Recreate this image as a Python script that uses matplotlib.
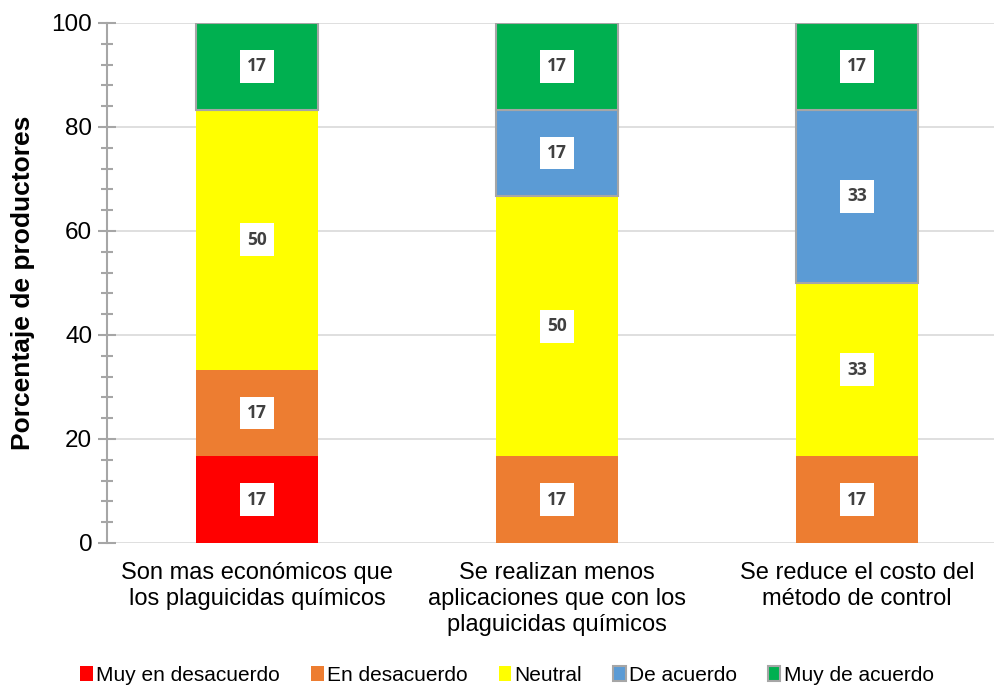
import matplotlib.pyplot as plt
import numpy as np
from matplotlib.ticker import MultipleLocator

# data (percent of producers)
categories = ["Son mas económicos que\nlos plaguicidas químicos",
              "Se realizan menos\naplicaciones que con los\nplaguicidas químicos",
              "Se reduce el costo del\nmétodo de control"]
series_names = ["Muy en desacuerdo", "En desacuerdo", "Neutral", "De acuerdo", "Muy de acuerdo"]
muy_desacuerdo = [16.67, 0, 0]
desacuerdo = [16.67, 16.67, 16.67]
neutral = [50.0, 50.0, 33.33]
de_acuerdo = [0, 16.67, 33.33]
muy_de_acuerdo = [16.67, 16.67, 16.67]

colors = ["#FF0000", "#ED7D31", "#FFFF00", "#5B9BD5", "#00B050"]
edges = ["none", "none", "none", "#A6A6A6", "#A6A6A6"]

plt.rcParams['font.family'] = ['Liberation Sans', 'DejaVu Sans']

fig = plt.figure(figsize=(9.94, 6.86), dpi=100)
ax = fig.add_axes([0.1076, 0.2085, 0.8924, 0.758])

x = np.arange(len(categories))
width = 0.407
bottom = np.zeros(len(categories))
all_series = [muy_desacuerdo, desacuerdo, neutral, de_acuerdo, muy_de_acuerdo]
handles = []
for name, vals, col, ec in zip(series_names, all_series, colors, edges):
    vals = np.array(vals)
    bars = ax.bar(x, vals, width, bottom=bottom, color=col, edgecolor=ec,
                  linewidth=1.5 if ec != "none" else 0, label=name, zorder=3)
    handles.append(bars)
    for xi, v, b in zip(x, vals, bottom):
        if v > 0:
            ax.text(xi, b + v / 2, f"{v:.0f}", ha='center', va='center',
                    fontsize=12.5, fontweight='bold', color='#404040',
                    family=['Open Sans', 'DejaVu Sans'], zorder=5,
                    bbox=dict(boxstyle='square,pad=0.42', fc='white', ec='none'))
    bottom += vals

ax.set_ylim(0, 100)
ax.set_xlim(-0.5, 2.457)
ax.yaxis.set_major_locator(MultipleLocator(20))
ax.yaxis.set_minor_locator(MultipleLocator(4))
ax.grid(axis='y', which='major', color='#D9D9D9', linewidth=1.2, zorder=0)
for s in ['top', 'right', 'bottom']:
    ax.spines[s].set_visible(False)
ax.spines['left'].set_color('#A6A6A6')
ax.spines['left'].set_linewidth(1.5)
ax.tick_params(axis='y', which='both', direction='inout', color='#A6A6A6', width=1.5, labelsize=17.5, pad=4)
ax.tick_params(axis='y', which='major', length=13)
ax.tick_params(axis='y', which='minor', length=9)
ax.tick_params(axis='x', length=0, labelsize=17, pad=14)
ax.set_xticks(x)
ax.set_xticklabels(categories, linespacing=1.22)
ax.set_ylabel("Porcentaje de productores", fontsize=19, fontweight='bold', labelpad=12)

leg = fig.legend(handles=handles, labels=series_names, loc='center', bbox_to_anchor=(0.51, 0.016),
                 ncol=5, frameon=False, fontsize=15, handlelength=0.6, handleheight=0.7,
                 handletextpad=0.15, columnspacing=1.5)
for t in leg.get_texts():
    t.set_family(['Liberation Sans Narrow', 'Liberation Sans'])

fig.savefig("out.png", dpi=100)
